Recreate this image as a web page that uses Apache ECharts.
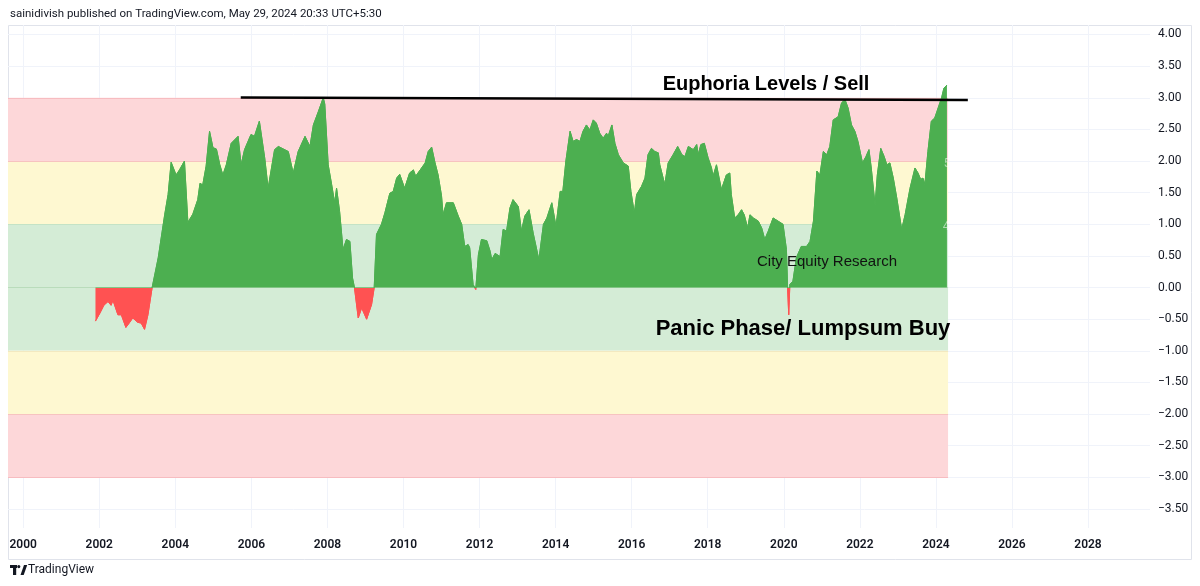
<!DOCTYPE html>
<html>
<head>
<meta charset="utf-8">
<script src="https://cdn.jsdelivr.net/npm/echarts@6/dist/echarts.min.js"></script>
<style>
html,body{margin:0;padding:0;background:#fff;}
#c{width:1200px;height:586px;}
</style>
</head>
<body>
<div id="c"></div>
<script>
// ---- data ----
const years = [2001.90,2002.02,2002.12,2002.23,2002.31,2002.36,2002.49,2002.58,2002.70,2002.80,2002.88,2003.01,2003.10,2003.19,2003.28,2003.39,
2003.55,2003.72,2003.81,2003.89,2004.02,2004.11,2004.24,2004.33,2004.46,2004.59,2004.65,2004.72,2004.81,2004.90,2004.99,2005.08,2005.17,2005.25,2005.34,2005.38,2005.47,2005.65,2005.73,2005.82,2005.99,2006.08,2006.21,2006.26,2006.35,2006.44,2006.61,2006.71,2006.97,2007.10,2007.23,2007.41,2007.54,2007.63,2007.76,2007.89,2007.93,2008.02,2008.11,2008.19,2008.24,2008.32,2008.41,2008.50,2008.59,2008.66,2008.71,
2008.81,2008.90,2009.03,2009.16,2009.23,
2009.29,2009.42,2009.51,2009.64,2009.73,2009.82,2009.90,2010.03,2010.16,2010.26,2010.32,2010.44,2010.57,2010.65,2010.74,2010.83,2010.91,2011.00,2011.04,2011.13,2011.31,2011.44,2011.53,2011.61,2011.70,2011.74,2011.83,2011.90,2011.97,
2012.05,2012.19,2012.28,2012.32,2012.41,2012.54,2012.62,2012.71,2012.80,2012.88,2013.02,2013.10,2013.19,2013.30,2013.41,2013.56,2013.68,2013.77,2013.90,2014.01,2014.12,2014.19,2014.27,2014.38,2014.46,2014.55,2014.64,2014.72,2014.81,2014.90,2014.99,2015.07,2015.16,2015.25,2015.34,2015.38,2015.48,2015.56,2015.65,2015.78,2015.91,2015.98,
2016.07,2016.13,2016.26,2016.35,2016.43,2016.52,2016.61,2016.70,2016.74,2016.87,2016.96,2017.09,2017.21,2017.32,2017.40,2017.49,2017.62,2017.71,2017.75,2017.82,2017.91,2018.01,2018.10,2018.14,2018.23,2018.36,2018.49,2018.58,2018.62,2018.71,2018.80,2018.89,2018.96,2019.05,2019.11,2019.20,2019.33,2019.42,2019.50,2019.59,2019.72,2019.85,2019.98,2020.07,2020.10,2020.13,2020.16,
2020.24,2020.33,2020.46,2020.60,2020.69,2020.78,2020.87,2020.95,2021.04,2021.13,2021.21,2021.30,2021.43,2021.52,2021.61,2021.69,2021.78,2021.87,2021.95,2022.07,2022.16,2022.24,2022.30,2022.40,2022.46,2022.55,2022.64,2022.71,2022.79,2022.88,2022.97,2023.10,2023.19,2023.32,2023.45,2023.53,2023.60,2023.66,2023.71,2023.79,2023.88,2023.97,2024.06,2024.15,2024.21,2024.29];
const scores = [-0.53,-0.40,-0.28,-0.22,-0.28,-0.20,-0.43,-0.43,-0.63,-0.55,-0.48,-0.55,-0.56,-0.66,-0.43,0.00,
0.47,1.15,1.47,1.98,1.78,1.86,2.00,1.03,1.16,1.39,1.65,1.62,1.92,2.47,2.21,2.19,1.94,1.78,1.94,1.94,2.28,2.39,1.94,2.18,2.42,2.39,2.63,2.60,2.05,1.57,2.18,2.23,2.15,1.81,2.15,2.39,2.23,2.57,2.78,3.00,2.90,1.94,1.63,1.34,1.57,1.20,0.60,0.76,0.73,0.15,0.00,
-0.48,-0.32,-0.50,-0.27,0.00,
0.84,1.00,1.18,1.49,1.52,1.73,1.79,1.57,1.81,1.86,1.76,1.86,1.97,2.15,2.22,1.97,1.78,1.45,1.15,1.34,1.34,1.13,1.00,0.65,0.68,0.63,0.05,-0.03,0.52,
0.76,0.74,0.57,0.44,0.54,0.49,0.92,0.89,1.26,1.39,1.28,0.89,1.13,1.23,0.86,0.44,1.00,1.10,1.34,0.97,1.52,1.52,2.00,2.47,2.31,2.34,2.31,2.47,2.57,2.49,2.65,2.60,2.44,2.36,2.44,2.39,2.57,2.28,2.10,1.97,1.92,1.52,
1.18,1.47,1.60,1.73,2.10,2.20,2.15,2.13,1.94,1.63,1.97,2.10,2.23,2.10,2.07,2.23,2.18,2.26,2.10,2.26,2.28,2.05,1.89,1.76,1.94,1.55,1.78,1.81,1.47,1.10,1.15,1.23,1.15,0.94,1.15,1.10,1.05,0.94,0.76,0.89,1.10,1.05,1.00,0.60,0.00,-0.43,0.05,
0.10,0.47,0.65,0.65,0.73,1.05,1.84,1.78,2.15,2.10,2.23,2.65,2.70,2.92,2.97,2.84,2.57,2.47,2.31,1.97,2.07,2.18,1.89,1.31,1.78,2.20,2.07,1.94,1.97,1.73,1.42,0.92,1.15,1.57,1.89,1.81,1.71,1.73,1.63,2.15,2.63,2.68,2.84,3.00,3.15,3.20];

const yearTicks = [2000,2002,2004,2006,2008,2010,2012,2014,2016,2018,2020,2022,2024,2026,2028];
const priceTicks = [-3.5,-3,-2.5,-2,-1.5,-1,-0.5,0,0.5,1,1.5,2,2.5,3,3.5,4];
const zoneEdges = [[2,3],[1,2],[0,1],[-1,0],[-2,-1],[-3,-2]];
const zoneLevels = [3,2,1,0,-1,-2,-3];
const zoneStart = 1999.6, zoneEnd = 2024.32;
const euphoriaLine = [[2005.72,3.005],[2024.84,2.965]];

// ---- styles ----
const zoneColor = {"3":'#fdd7d9',"2":'#fef8d1',"1":'#d4ecd6',"0":'#d4ecd6',"-1":'#fef8d1',"-2":'#fdd7d9'};
const levelColor = {"3":'#f7bcc0',"2":'#f7c3c0',"1":'#c4e3c6',"0":'#b9dcbb',"-1":'#f3e9c0',"-2":'#f7c3c0',"-3":'#f7bcc0'};
const TXT = '#131722';
const UP = '#4caf50', DOWN = '#ff5252';

const chart = echarts.init(document.getElementById('c'), null, {renderer:'canvas'});
const pts = years.map((y,i)=>[y, scores[i]]);

const option = {
  backgroundColor:'#ffffff',
  animation:false,
  grid:{left:8, right:50, top:25, bottom:58, containLabel:false},
  xAxis:{
    type:'value', min:1999.6, max:2029.63,
    axisLine:{show:false},
    axisTick:{show:false, customValues:yearTicks},
    axisLabel:{customValues:yearTicks, color:TXT, fontSize:12, fontWeight:600, fontFamily:'Roboto', margin:11,
      formatter:v=>String(Math.round(v))},
    splitLine:{show:true, lineStyle:{color:'#f0f3fa', width:1}}
  },
  yAxis:{
    type:'value', position:'right', min:-3.8, max:4.15,
    axisLine:{show:false},
    axisTick:{show:false, customValues:priceTicks},
    axisLabel:{customValues:priceTicks, color:TXT, fontSize:12, fontFamily:'Roboto', margin:8,
      formatter:v=>v.toFixed(2).replace('-','\u2212')},
    splitLine:{show:true, lineStyle:{color:'#f0f3fa', width:1}}
  },
  series:[
    {
      type:'line', data:[], z:1, silent:true,
      markArea:{silent:true, z:1,
        data: zoneEdges.map(e=>[{xAxis:zoneStart, yAxis:e[0], itemStyle:{color:zoneColor[String(e[1])]}},{xAxis:zoneEnd, yAxis:e[1]}])
      },
      markLine:{silent:true, symbol:['none','none'], z:1, label:{show:false},
        data: zoneLevels.map(l=>[{coord:[zoneStart,l], lineStyle:{color:levelColor[String(l)], width:1, type:'solid'}},{coord:[zoneEnd,l]}])
      }
    },
    {
      type:'line', data:pts, z:3, showSymbol:false, symbol:'none', silent:true,
      lineStyle:{width:1, color:UP},
      areaStyle:{opacity:1, origin:0, color:UP}
    },
    {
      type:'line', data:[], z:5, silent:true,
      markLine:{silent:true, symbol:['none','none'], label:{show:false}, z:5,
        lineStyle:{color:'#000', width:2.5, type:'solid'},
        data:[[{coord:euphoriaLine[0]},{coord:euphoriaLine[1]}]]
      }
    }
  ],
  graphic:[
    {type:'rect', shape:{x:8.5,y:25.5,width:1183,height:534}, style:{fill:null, stroke:'#e0e3eb', lineWidth:1}, silent:true, z:0},
    {type:'text', x:10, y:14, style:{text:'sainidivish published on TradingView.com, May 29, 2024 20:33 UTC+5:30', fill:TXT, font:'11.5px Roboto', textVerticalAlign:'middle'}},
    {type:'text', x:766, y:84, z:10, style:{text:'Euphoria Levels / Sell', fill:'#000', font:'bold 20px "Liberation Sans", Arial', textAlign:'center', textVerticalAlign:'middle'}},
    {type:'text', x:803, y:329, z:10, style:{text:'Panic Phase/ Lumpsum Buy', fill:'#000', font:'bold 22px "Liberation Sans", Arial', textAlign:'center', textVerticalAlign:'middle'}},
    {type:'text', x:827, y:262, z:10, style:{text:'City Equity Research', fill:'#111', font:'15px "Liberation Sans", Arial', textAlign:'center', textVerticalAlign:'middle'}},
    {type:'text', x:947, y:164, z:10, style:{text:'5', fill:'rgba(255,255,255,0.55)', font:'12px Roboto', textAlign:'center', textVerticalAlign:'middle'}},
    {type:'text', x:946, y:227, z:10, style:{text:'4', fill:'rgba(255,255,255,0.55)', font:'12px Roboto', textAlign:'center', textVerticalAlign:'middle'}},
    {type:'group', x:10, y:565, children:[
      {type:'rect', shape:{x:0,y:0,width:7,height:3}, style:{fill:'#131722'}},
      {type:'rect', shape:{x:3,y:0,width:3.2,height:10}, style:{fill:'#131722'}},
      {type:'circle', shape:{cx:8.8,cy:1.6,r:1.6}, style:{fill:'#131722'}},
      {type:'polygon', shape:{points:[[10.5,10],[14,0],[17.2,0],[13.7,10]]}, style:{fill:'#131722'}}
    ]},
    {type:'text', x:28, y:570, style:{text:'TradingView', fill:TXT, font:'12px Roboto', textVerticalAlign:'middle'}}
  ]
};
chart.setOption(option);

// colour the area green above zero and red below, split at the axis zero line
const y0 = chart.convertToPixel({yAxisIndex:0}, 0);
const H = chart.getHeight();
const f = y0 / H;
const grad = new echarts.graphic.LinearGradient(0, 0, 0, H, [
  {offset:0, color:UP},{offset:f, color:UP},{offset:f, color:DOWN},{offset:1, color:DOWN}
], true);
chart.setOption({series:[{},{lineStyle:{color:grad}, areaStyle:{color:grad}},{}]});
</script>
</body>
</html>
